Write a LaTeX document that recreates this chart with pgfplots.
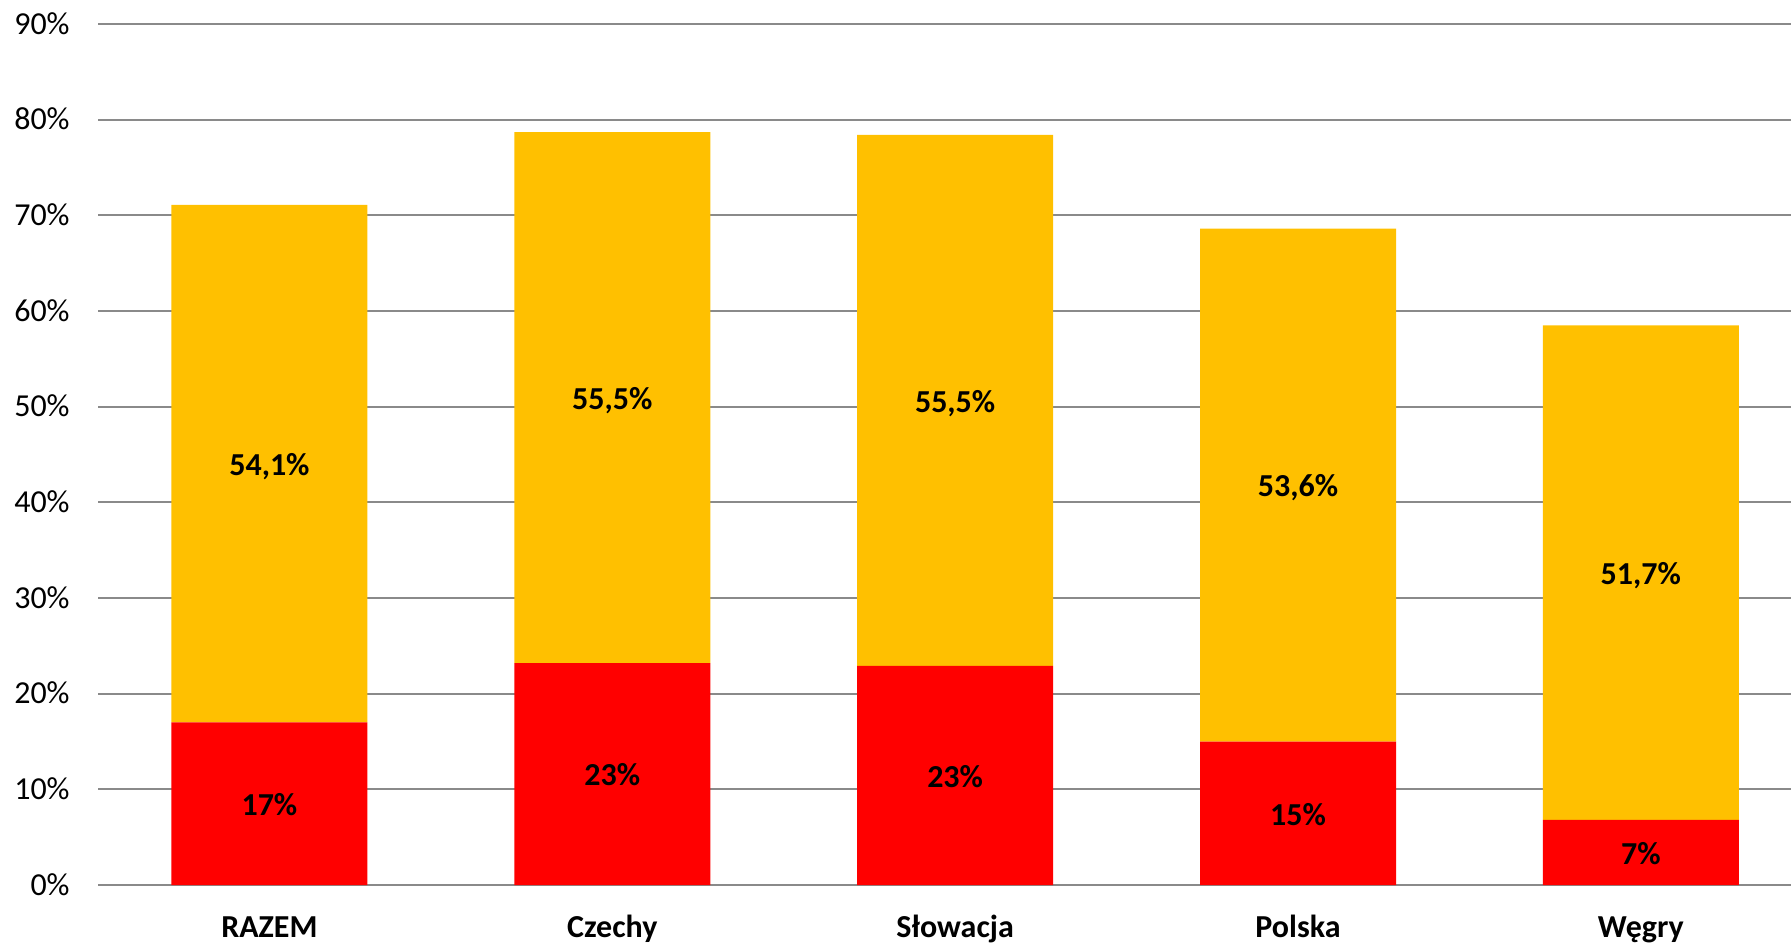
\documentclass[border=0pt]{standalone}
\usepackage{pgfplots}
\pgfplotsset{compat=1.18}
\usepackage{fontspec}
\setmainfont{Carlito}
\definecolor{barred}{HTML}{FF0000}
\definecolor{baryellow}{HTML}{FFC000}
\definecolor{gridgray}{HTML}{8A8A8A}
\begin{document}
\begin{tikzpicture}
\begin{axis}[
  at={(0,0)}, anchor=south west,
  scale only axis, width=846.5pt, height=430.5pt,
  ybar stacked, bar width=98pt,
  xmin=-0.5, xmax=4.438, ymin=0, ymax=90,
  xtick=data,
  xticklabels={RAZEM,Czechy,Słowacja,Polska,Węgry},
  ytick={0,10,20,30,40,50,60,70,80,90},
  yticklabels={0\%,10\%,20\%,30\%,40\%,50\%,60\%,70\%,80\%,90\%},
  axis line style={draw=none},
  ymajorgrids, grid style={gridgray, line width=1pt},
  major tick length=0pt,
  tick label style={font=\fontsize{16}{19}\selectfont},
  xticklabel style={anchor=base, yshift=-26pt, font=\fontsize{16}{19}\selectfont\bfseries},
  yticklabel style={anchor=base east, inner sep=0pt, xshift=-14pt, yshift=-5.06pt},
  nodes near coords, point meta=explicit symbolic,
  every node near coord/.append style={anchor=base, text=black,
     font=\fontsize{16}{19}\selectfont\bfseries,
     yshift=-5.9pt},
]
\addplot[fill=barred, draw=none] coordinates {
  (0,17.0) [{17\%}]
  (1,23.2) [{23\%}]
  (2,22.9) [{23\%}]
  (3,15.0) [{15\%}]
  (4,6.8)  [{7\%}]
};
\addplot[fill=baryellow, draw=none] coordinates {
  (0,54.1) [{54,1\%}]
  (1,55.5) [{55,5\%}]
  (2,55.5) [{55,5\%}]
  (3,53.6) [{53,6\%}]
  (4,51.7) [{51,7\%}]
};
\end{axis}
\pgfresetboundingbox
\path[use as bounding box] (-49pt,-29.5pt) rectangle (846.5pt,442.5pt);
\end{tikzpicture}
\end{document}
